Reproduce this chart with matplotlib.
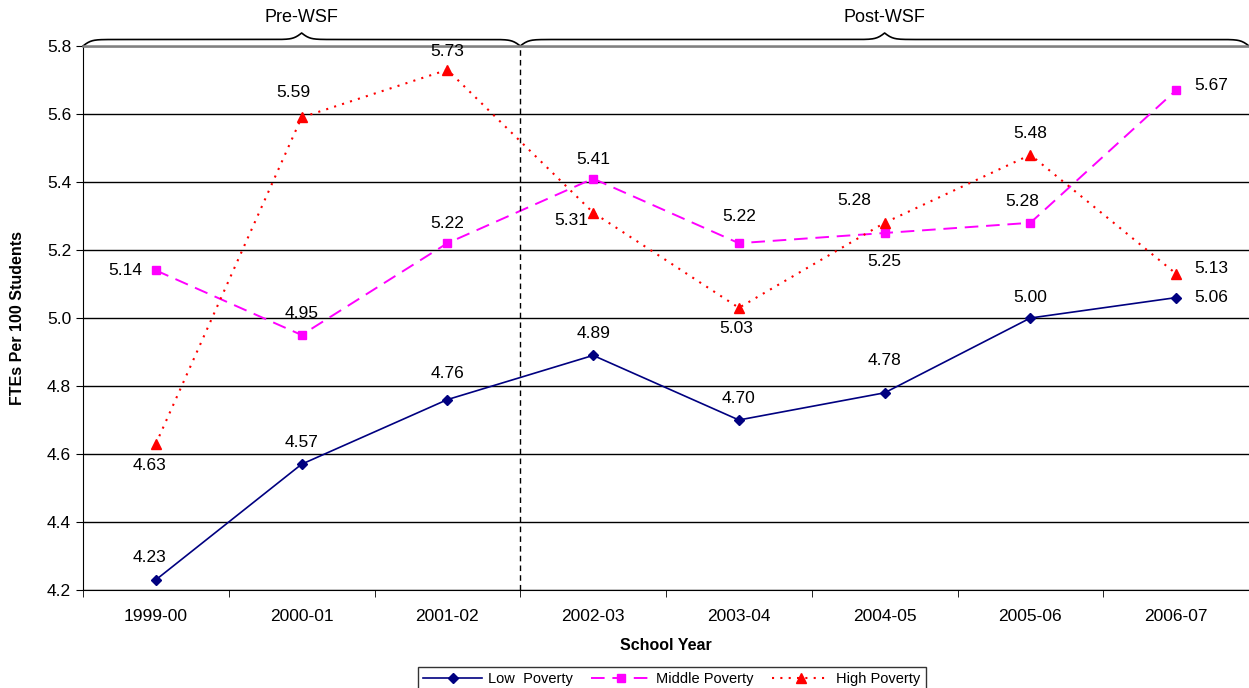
import numpy as np
import matplotlib
matplotlib.use("Agg")
import matplotlib.pyplot as plt
import matplotlib.transforms as mtransforms

plt.rcParams["font.family"] = ["Liberation Sans", "DejaVu Sans"]

years = ["1999-00", "2000-01", "2001-02", "2002-03",
         "2003-04", "2004-05", "2005-06", "2006-07"]
low = [4.23, 4.57, 4.76, 4.89, 4.70, 4.78, 5.00, 5.06]
middle = [5.14, 4.95, 5.22, 5.41, 5.22, 5.25, 5.28, 5.67]
high = [4.63, 5.59, 5.73, 5.31, 5.03, 5.28, 5.48, 5.13]

# label offsets in pixels (dx, dy, ha)
low_off = [(-6, 22, "center"), (0, 22, "center"), (0, 26, "center"), (0, 22, "center"),
           (0, 22, "center"), (0, 32, "center"), (0, 21, "center"), (18, 0, "left")]
mid_off = [(-14, 0, "right"), (0, 22, "center"), (0, 20, "center"), (0, 19, "center"),
           (0, 27, "center"), (0, -28, "center"), (-8, 21, "center"), (18, 5, "left")]
high_off = [(-6, -22, "center"), (-8, 25, "center"), (0, 18, "center"), (-22, -8, "center"),
            (-3, -21, "center"), (-30, 22, "center"), (0, 21, "center"), (18, 5, "left")]

W, H = 1249, 688
fig = plt.figure(figsize=(W / 100, H / 100), dpi=100)
ax = fig.add_axes([83 / W, (H - 590) / H, (W - 83) / W, 544 / H])

x = np.arange(len(years))
ax.plot(x, low, color="#000080", lw=1.2, marker="D", ms=5.5, label="Low  Poverty")
ax.plot(x, middle, color="#FF00FF", lw=1.4, ls=(0, (7, 4)), marker="s", ms=6,
        label="Middle Poverty")
ax.plot(x, high, color="#FF0000", lw=1.5, ls=(0, (1, 3)), marker="^", ms=7,
        label="High Poverty")

for vals, offs in [(low, low_off), (middle, mid_off), (high, high_off)]:
    for i, (v, (dx, dy, ha)) in enumerate(zip(vals, offs)):
        ax.annotate(f"{v:.2f}", (i, v), xytext=(dx, dy), textcoords="offset pixels",
                    ha=ha, va="center", fontsize=12.5)

ax.set_ylim(4.2, 5.8)
ax.set_yticks(np.arange(4.2, 5.81, 0.2))
ax.set_yticklabels([f"{t:.1f}" for t in np.arange(4.2, 5.81, 0.2)], fontsize=12.5)
# 147 px per category, axes run past the right edge of the figure
ax.set_xlim(-0.5, -0.5 + (W - 83) / 147)
ax.set_xticks(x)
ax.set_xticklabels(years, fontsize=12.5)
ax.set_xticks(np.arange(-0.5, 8, 1), minor=True)
ax.tick_params(axis="x", which="major", length=0, pad=14)
ax.tick_params(axis="x", which="minor", length=5, direction="out")
ax.tick_params(axis="y", length=5, direction="out")
ax.grid(axis="y", color="black", lw=1)
ax.set_axisbelow(True)
ax.spines["right"].set_visible(False)
ax.spines["top"].set_color("#808080")
ax.spines["top"].set_linewidth(1.8)

ax.axvline(2.5, color="black", lw=1, ls=(0, (4, 3)))

ax.set_xlabel("School Year", fontsize=11.5, fontweight="bold", labelpad=10)
fig.text(18 / W, (H - 318) / H, "FTEs Per 100 Students", rotation=90,
         ha="center", va="center", fontsize=11.5, fontweight="bold")

# curly braces above the plot
trans = mtransforms.blended_transform_factory(ax.transData, ax.transAxes)


def brace(x0, x1, tip_px=13, beta=35, n=300):
    half = (x1 - x0) / 2
    xh = np.linspace(0, half, n)
    yh = 1 / (1 + np.exp(-beta * xh)) + 1 / (1 + np.exp(-beta * (xh - half)))
    yh = (yh - yh[0]) / (yh[-1] - yh[0])
    xs = np.concatenate([x0 + xh, x1 - xh[::-1]])
    ys = np.concatenate([yh, yh[::-1]])
    ax.plot(xs, 1 + ys * tip_px / 544, color="black", lw=1.2,
            transform=trans, clip_on=False)


brace(-0.5, 2.5)
brace(2.5, 7.5)
ax.text(1.0, 1 + 28 / 544, "Pre-WSF", transform=trans, ha="center", va="center",
        fontsize=13)
ax.text(5.0, 1 + 28 / 544, "Post-WSF", transform=trans, ha="center", va="center",
        fontsize=13)

leg = fig.legend(loc="upper center", bbox_to_anchor=(672 / W, 1 - 660 / H), ncol=3,
                 fontsize=10.5, frameon=True, fancybox=False, edgecolor="black",
                 handlelength=4.0, handletextpad=0.4, columnspacing=1.3,
                 borderpad=0.35)
leg.get_frame().set_linewidth(1)

fig.savefig("out.png", dpi=100)
